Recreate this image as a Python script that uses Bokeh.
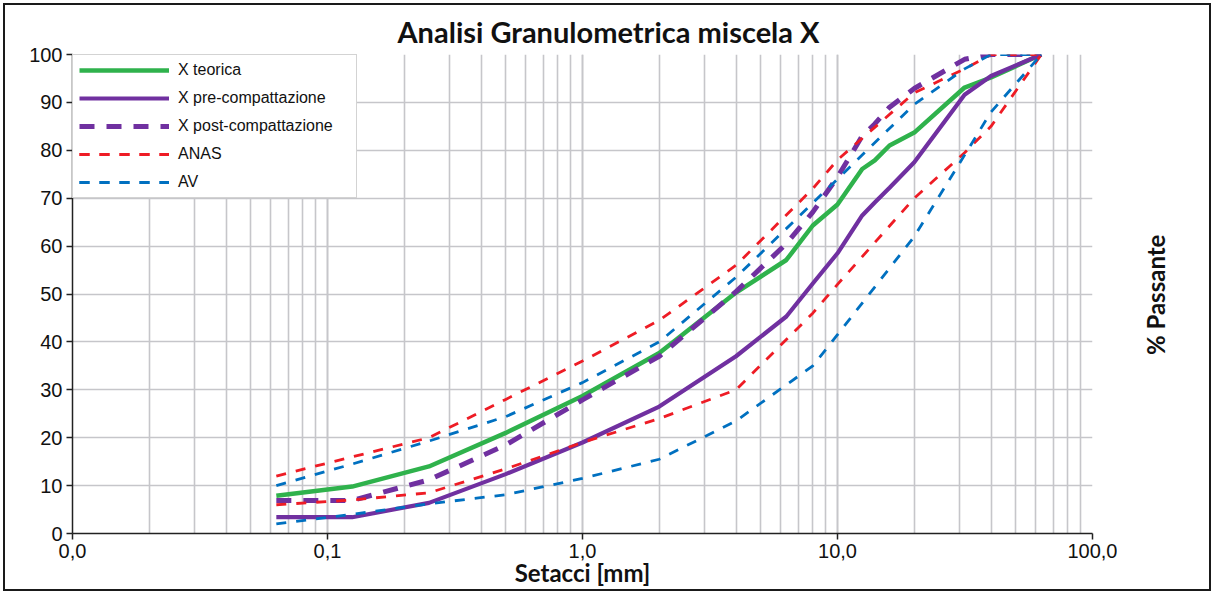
from math import pi

from bokeh.plotting import figure
from bokeh.layouts import row
from bokeh.models import (Range1d, LogTicker, FixedTicker, CustomJSTickFormatter,
                          Legend, LegendItem)
from bokeh.core.properties import value
from bokeh.embed import file_html
from bokeh.resources import INLINE

# Sieve openings [mm] and percent passing for the mix curves
sieves = [0.063, 0.125, 0.25, 0.5, 1, 2, 4, 6.3, 8, 10, 12.5, 14, 16, 20, 31.5, 40, 63]
x_teorica = [7.9, 9.8, 14.0, 21.0, 28.7, 37.7, 50.3, 57.1, 64.3, 68.7, 76.1, 77.9, 81.0, 83.7, 93.1, 95.2, 100]
x_pre = [3.4, 3.4, 6.4, 12.4, 19.0, 26.5, 37.0, 45.3, 52.2, 58.5, 66.4, 69.1, 72.2, 77.5, 91.6, 95.5, 100]
x_post = [6.9, 6.9, 11.2, 18.5, 27.9, 37.0, 50.5, 60.5, 67.1, 74.4, 83.0, 85.5, 89.0, 92.9, 99.0, 100, 100]

# Specification envelopes (upper / lower limits)
spec_sieves = [0.063, 0.125, 0.25, 0.5, 1, 2, 4, 8, 10, 20, 31.5, 40, 63]
anas_sup = [12, 16, 20, 28, 36, 44.5, 56, 72, 78, 92, 97, 100, 100]
anas_inf = [6, 7, 8.5, 13.5, 19, 24, 30, 46, 52, 70, 79.5, 85, 100]
av_sup = [10, 14.5, 19.3, 24.4, 31.5, 40, 53.5, 69, 74, 89.6, 97, 100, 100]
av_inf = [2, 4, 6.2, 8.1, 11.5, 15.5, 23.5, 35, 41.5, 62, 79, 88, 100]

y_ticks = list(range(0, 101, 10))

GREEN = "#2fb24c"
PURPLE = "#7030a0"
RED = "#ee1c25"
BLUE = "#0070c0"
GRID = "#c6c6ca"
INK = "#111111"

W_MAIN, W_SIDE, H = 1112, 92, 584

p = figure(width=W_MAIN, height=H, x_axis_type="log",
           x_range=Range1d(0.01, 100), y_range=Range1d(0, 100),
           output_backend="svg", toolbar_location=None,
           min_border_left=67, min_border_right=25,
           min_border_top=48, min_border_bottom=55)
p.outline_line_color = None
p.background_fill_color = "white"
p.border_fill_color = "white"

p.title.text = "Analisi Granulometrica miscela X"
p.title.align = "left"
p.title.offset = 325
p.title.text_font = "Lato"
p.title.text_font_style = "bold"
p.title.text_font_size = "29px"
p.title.text_color = INK
p.title.standoff = 12

# axes
xa = p.xaxis[0]
xa.ticker = LogTicker(num_minor_ticks=10)
xa.formatter = CustomJSTickFormatter(code="return tick.toFixed(1).replace('.', ',');")
xa.axis_label = "Setacci [mm]"
xa.axis_label_text_font = "Lato"
xa.axis_label_text_font_style = "bold"
xa.axis_label_text_font_size = "24px"
xa.axis_label_text_color = INK
xa.axis_label_standoff = -3
ya = p.yaxis[0]
ya.ticker = FixedTicker(ticks=y_ticks)
for ax in (xa, ya):
    ax.axis_line_color = "#222222"
    ax.axis_line_width = 1.5
    ax.major_tick_line_color = "#222222"
    ax.major_tick_line_width = 1.5
    ax.major_tick_out = 6
    ax.major_tick_in = 0
    ax.minor_tick_line_color = None
    ax.major_label_text_font = "Liberation Sans"
    ax.major_label_text_font_size = "20px"
    ax.major_label_text_color = INK
    ax.major_label_standoff = 4

# grid
p.xgrid.ticker = xa.ticker
p.xgrid.grid_line_color = GRID
p.xgrid.grid_line_width = 1.6
p.xgrid.minor_grid_line_color = GRID
p.xgrid.minor_grid_line_width = 1.6
p.ygrid.ticker = FixedTicker(ticks=y_ticks)
p.ygrid.grid_line_color = GRID
p.ygrid.grid_line_width = 1.6

# curves
r_teo = p.line(sieves, x_teorica, line_color=GREEN, line_width=4.5)
r_pre = p.line(sieves, x_pre, line_color=PURPLE, line_width=4.2)
r_post = p.line(sieves, x_post, line_color=PURPLE, line_width=5, line_dash="15 12")
r_anas_s = p.line(spec_sieves, anas_sup, line_color=RED, line_width=2.8, line_dash="10 10")
r_anas_i = p.line(spec_sieves, anas_inf, line_color=RED, line_width=2.8, line_dash="10 10")
r_av_s = p.line(spec_sieves, av_sup, line_color=BLUE, line_width=2.8, line_dash="10 10")
r_av_i = p.line(spec_sieves, av_inf, line_color=BLUE, line_width=2.8, line_dash="10 10")

legend = Legend(items=[
    LegendItem(label="X teorica", renderers=[r_teo]),
    LegendItem(label="X pre-compattazione", renderers=[r_pre]),
    LegendItem(label="X post-compattazione", renderers=[r_post]),
    LegendItem(label="ANAS", renderers=[r_anas_s, r_anas_i]),
    LegendItem(label="AV", renderers=[r_av_s, r_av_i]),
], location="top_left", margin=0, padding=6, spacing=10,
    glyph_width=90, glyph_height=16, label_standoff=9, label_width=172,
    label_text_font="Liberation Sans", label_text_font_size="16px",
    label_text_color=INK,
    border_line_color="#a8a8a8", border_line_width=1.5,
    background_fill_color="white", background_fill_alpha=1)
p.add_layout(legend)

# narrow strip on the right holding the vertical axis title
side = figure(width=W_SIDE, height=H, x_range=Range1d(0, W_SIDE), y_range=Range1d(0, H),
              output_backend="svg", toolbar_location=None,
              x_axis_location=None, y_axis_location=None,
              min_border_left=0, min_border_right=0, min_border_top=0, min_border_bottom=0)
side.grid.visible = False
side.outline_line_color = None
side.border_fill_color = "white"
side.text(x=[38], y=[H - 293], text=["% Passante"], angle=pi / 2,
          text_align="center", text_baseline="middle",
          text_font=value("Lato"), text_font_style="bold",
          text_font_size="24px", text_color=INK)

page = row(p, side)
page.spacing = 0
page.styles = {"margin": "3px 0 0 3px", "border": "2px solid #1a1a1a"}

open("out.html", "w").write(file_html(page, INLINE))
